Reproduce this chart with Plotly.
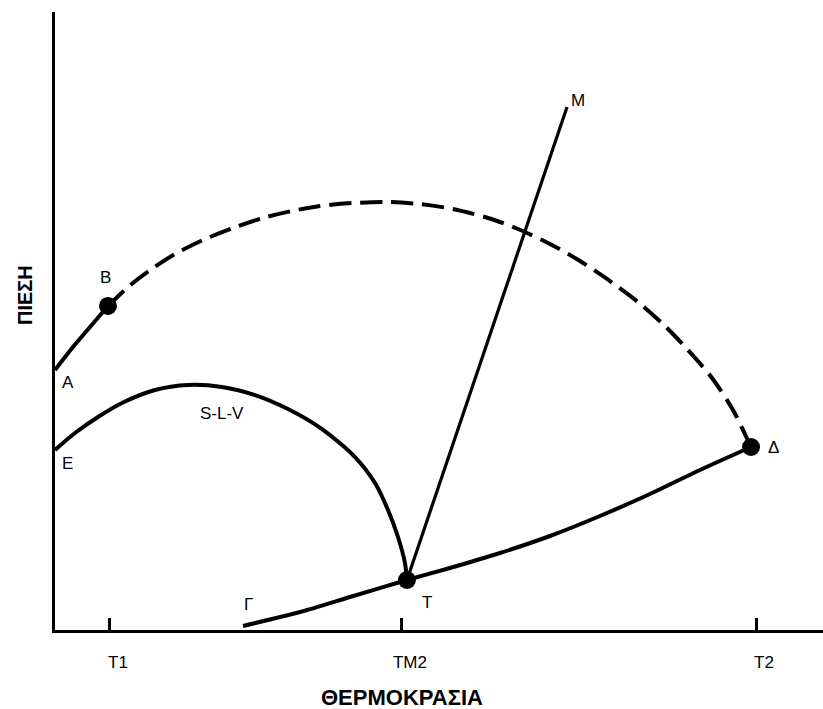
import plotly.graph_objects as go

# Phase diagram: pressure vs temperature (arbitrary units, 0-100 on both axes)

# A -> B solid branch
ab_t = [0.0, 2.34, 4.56, 6.90]
ab_p = [42.07, 45.79, 49.03, 52.43]

# B -> Δ dashed branch
bd_t = [6.90, 9.51, 12.37, 15.63, 19.27, 23.18, 27.08, 30.86, 34.51, 38.80, 43.23,
        47.53, 51.82, 56.38, 60.29, 64.45, 68.36, 71.88, 75.91, 79.43, 82.29, 85.55,
        88.28, 90.63]
bd_p = [52.43, 55.50, 58.25, 60.84, 63.11, 65.05, 66.67, 67.80, 68.61, 69.09, 69.26,
        68.93, 68.12, 66.67, 64.89, 62.46, 59.71, 56.80, 53.07, 49.19, 45.47, 40.78,
        35.60, 29.61]

# E -> T  (S-L-V curve)
slv_t = [0.0, 2.60, 5.60, 8.72, 13.02, 17.32, 21.74, 26.04, 30.34, 34.77, 39.06,
         41.67, 43.36, 44.66, 45.57, 45.83]
slv_p = [29.13, 31.88, 34.47, 36.73, 38.83, 39.64, 39.32, 38.02, 35.76, 32.52, 27.99,
         23.79, 19.42, 15.05, 10.84, 8.09]

# Γ -> T -> Δ
gd_t = [24.48, 31.90, 38.41, 45.83, 51.43, 57.94, 64.45, 70.96, 77.47, 83.98, 90.63]
gd_p = [0.65, 2.91, 5.34, 8.09, 10.03, 12.46, 15.21, 18.45, 22.01, 25.89, 29.61]

# T -> M straight line
tm_t = [45.83, 66.67]
tm_p = [8.09, 84.63]

# Marked points B, T, Δ
pts_t = [6.90, 45.83, 90.63]
pts_p = [52.43, 8.09, 29.61]

# Temperature tick positions and labels
tick_vals = [7.16, 45.18, 91.28]
tick_text = ["T1", "TM2", "T2"]

# Point labels
label_text = ["B", "A", "E", "S-L-V", "Γ", "T", "M", "Δ"]
label_t = [6.51, 1.69, 1.69, 21.74, 25.13, 48.44, 68.10, 93.49]
label_p = [56.96, 39.97, 27.02, 35.11, 4.05, 4.53, 85.76, 29.61]

FONT = "Arial, 'Liberation Sans', sans-serif"
BLACK = "#000000"

fig = go.Figure()

def curve(x, y, width=4, dash="solid"):
    fig.add_trace(go.Scatter(x=x, y=y, mode="lines", line_shape="spline",
                             line=dict(color=BLACK, width=width, dash=dash, smoothing=0.8),
                             hoverinfo="skip", showlegend=False))

curve(ab_t, ab_p)
curve(bd_t, bd_p, width=4, dash="22px,9px")
curve(slv_t, slv_p)
curve(gd_t, gd_p)
fig.add_trace(go.Scatter(x=tm_t, y=tm_p, mode="lines",
                         line=dict(color=BLACK, width=3.2),
                         hoverinfo="skip", showlegend=False))
fig.add_trace(go.Scatter(x=pts_t, y=pts_p, mode="markers",
                         marker=dict(color=BLACK, size=18),
                         hoverinfo="skip", showlegend=False))

for txt, x, y in zip(label_text, label_t, label_p):
    fig.add_annotation(x=x, y=y, text=txt, showarrow=False,
                       xanchor="center", yanchor="middle",
                       font=dict(family=FONT, size=17, color=BLACK))

# Axis titles
fig.add_annotation(xref="paper", yref="paper", x=(402 - 55) / 768, y=-(697 - 630) / 618,
                   xanchor="center", yanchor="middle",
                   text="<b>ΘΕΡΜΟΚΡΑΣΙΑ</b>", showarrow=False,
                   font=dict(family=FONT, size=22, color=BLACK))
fig.add_annotation(xref="paper", yref="paper", x=-(55 - 25) / 768, y=(630 - 295) / 618,
                   xanchor="center", yanchor="middle",
                   text="<b>ΠΙΕΣΗ</b>", showarrow=False, textangle=-90,
                   font=dict(family=FONT, size=20, color=BLACK))

fig.update_xaxes(range=[0, 100], showgrid=False, zeroline=False,
                 showline=True, linecolor=BLACK, linewidth=3,
                 ticks="inside", ticklen=12, tickwidth=3, tickcolor=BLACK,
                 tickvals=tick_vals, ticktext=tick_text,
                 ticklabelshift=8, ticklabelstandoff=15,
                 tickfont=dict(family=FONT, size=17, color=BLACK))
fig.update_yaxes(range=[0, 100], showgrid=False, zeroline=False,
                 showline=True, linecolor=BLACK, linewidth=3,
                 showticklabels=False, ticks="")

fig.update_layout(width=823, height=709, autosize=False,
                  margin=dict(l=55, r=0, t=12, b=79),
                  plot_bgcolor="white", paper_bgcolor="white")

fig.write_html("out.html")
